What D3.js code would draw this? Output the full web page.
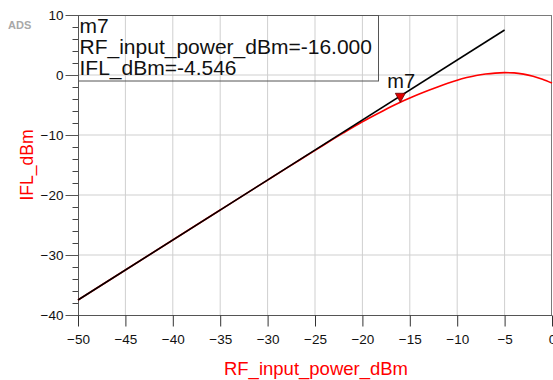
<!DOCTYPE html>
<html>
<head>
<meta charset="utf-8">
<script src="https://cdn.jsdelivr.net/npm/d3@7"></script>
<style>
  html, body { margin: 0; padding: 0; background: #fff; }
  svg { display: block; font-family: "Liberation Sans", Arial, sans-serif; }
</style>
</head>
<body>
<svg id="chart" width="553" height="380"></svg>
<script>
// RF input sweep (dBm) and measured IF output (dBm)
const rfInput = [-50, -45, -40, -35, -30, -28, -26, -24, -22, -20, -18, -17, -16, -15, -14, -13, -12, -11, -10, -9, -8, -7, -6, -5, -4, -3, -2, -1, 0];
const iflOut  = [-37.5, -32.5, -27.5, -22.5, -17.51, -15.52, -13.55, -11.58, -9.65, -7.8, -6.12, -5.3, -4.546, -3.85, -3.18, -2.55, -1.95, -1.38, -0.86, -0.43, -0.08, 0.16, 0.32, 0.39, 0.35, 0.15, -0.2, -0.7, -1.35];

// Ideal small-signal gain line
const idealInput = [-50, -5];
const idealOut   = [-37.5, 7.5];

// Marker m7
const markerName = "m7";
const markerX = -16.0;
const markerY = -4.546;

// Axis ticks
const xTicks = [-50, -45, -40, -35, -30, -25, -20, -15, -10, -5, 0];
const yTicks = [10, 0, -10, -20, -30, -40];
const yMinorTicks = d3.range(-40, 10.001, 2);

const svg = d3.select("#chart");
const plotL = 78, plotR = 552, plotT = 15, plotB = 315;

const x = d3.scaleLinear().domain([-50, 0]).range([plotL, plotR]);
const y = d3.scaleLinear().domain([-40, 10]).range([plotB, plotT]);

// grid
const grid = svg.append("g");
grid.selectAll("line.vx").data(xTicks.filter(d => d > -50 && d < 0)).enter().append("line")
  .attr("x1", d => x(d)).attr("x2", d => x(d)).attr("y1", plotT).attr("y2", plotB)
  .attr("stroke", "#cfcfcf").attr("stroke-width", 1);
grid.selectAll("line.hy").data(yTicks.filter(d => d > -40 && d < 10)).enter().append("line")
  .attr("x1", plotL).attr("x2", plotR).attr("y1", d => y(d)).attr("y2", d => y(d))
  .attr("stroke", "#cfcfcf").attr("stroke-width", 1);

// frame
svg.append("line").attr("x1", plotL).attr("x2", plotR).attr("y1", plotT + 0.5).attr("y2", plotT + 0.5).attr("stroke", "#7a7a7a");
svg.append("line").attr("x1", plotR - 0.5).attr("x2", plotR - 0.5).attr("y1", plotT).attr("y2", plotB).attr("stroke", "#7a7a7a");

// y axis with minor ticks
const yAxisMinor = d3.axisLeft(y).tickValues(yMinorTicks).tickSize(6).tickFormat("");
svg.append("g").attr("transform", `translate(${plotL + 0.5},0)`).call(yAxisMinor)
  .call(g => g.select(".domain").remove())
  .call(g => g.selectAll("line").attr("stroke", "#444"));
const yAxis = d3.axisLeft(y).tickValues(yTicks).tickSize(13).tickPadding(2).tickFormat(d3.format("d"));
svg.append("g").attr("transform", `translate(${plotL + 0.5},0)`).call(yAxis)
  .call(g => g.select(".domain").attr("stroke", "#555").attr("d", `M0,${plotT}V${plotB}`))
  .call(g => g.selectAll("line").attr("stroke", "#555"))
  .call(g => g.selectAll("text").attr("font-size", 13.5).attr("fill", "#111")
    .attr("font-family", "Liberation Sans, Arial, sans-serif"));

// x axis
const xAxis = d3.axisBottom(x).tickValues(xTicks).tickSize(11).tickPadding(8).tickFormat(d3.format("d"));
svg.append("g").attr("transform", `translate(0,${plotB + 0.5})`).call(xAxis)
  .call(g => g.select(".domain").attr("stroke", "#555").attr("d", `M${plotL},0H${plotR}`))
  .call(g => g.selectAll("line").attr("stroke", "#333"))
  .call(g => g.selectAll("text").attr("font-size", 13.5).attr("fill", "#111")
    .attr("font-family", "Liberation Sans, Arial, sans-serif"));

// curves
const line = d3.line().x(d => x(d[0])).y(d => y(d[1])).curve(d3.curveMonotoneX);
svg.append("path").datum(d3.zip(rfInput, iflOut)).attr("d", line)
  .attr("fill", "none").attr("stroke", "#ff0000").attr("stroke-width", 1.6);
svg.append("path").datum(d3.zip(idealInput, idealOut)).attr("d", d3.line().x(d => x(d[0])).y(d => y(d[1])))
  .attr("fill", "none").attr("stroke", "#000").attr("stroke-width", 1.6);

// marker
const mx = x(markerX), my = y(markerY);
svg.append("path")
  .attr("d", `M${mx},${my} L${mx - 5},${my - 9} L${mx + 5},${my - 9} Z`)
  .attr("fill", "#e00000").attr("stroke", "#600").attr("stroke-width", 0.8);
svg.append("text").attr("x", mx - 13).attr("y", my - 14)
  .attr("font-size", 20).attr("fill", "#111").text(markerName);

// marker readout box (transparent, grid shows through)
const box = svg.append("g");
box.append("rect").attr("x", plotL + 0.5).attr("y", plotT + 0.5).attr("width", 300).attr("height", 65.5)
  .attr("fill", "none").attr("stroke", "#555").attr("stroke-width", 1);
const readout = [markerName,
  "RF_input_power_dBm=" + markerX.toFixed(3),
  "IFL_dBm=" + markerY.toFixed(3)];
box.selectAll("text").data(readout).enter().append("text")
  .attr("x", plotL + 1.5).attr("y", (d, i) => 33 + i * 21)
  .attr("font-size", 21).attr("fill", "#111").text(d => d);

// axis titles
svg.append("text").attr("x", 316).attr("y", 375).attr("text-anchor", "middle")
  .attr("font-size", 18.5).attr("fill", "#ff0000").text("RF_input_power_dBm");
svg.append("text").attr("transform", "translate(33,165) rotate(-90)").attr("text-anchor", "middle")
  .attr("font-size", 17.5).attr("fill", "#ff0000").text("IFL_dBm");

// badge
svg.append("text").attr("x", 8).attr("y", 29).attr("font-size", 11).attr("font-weight", "bold")
  .attr("fill", "#a8a8a8").text("ADS");
</script>
</body>
</html>
